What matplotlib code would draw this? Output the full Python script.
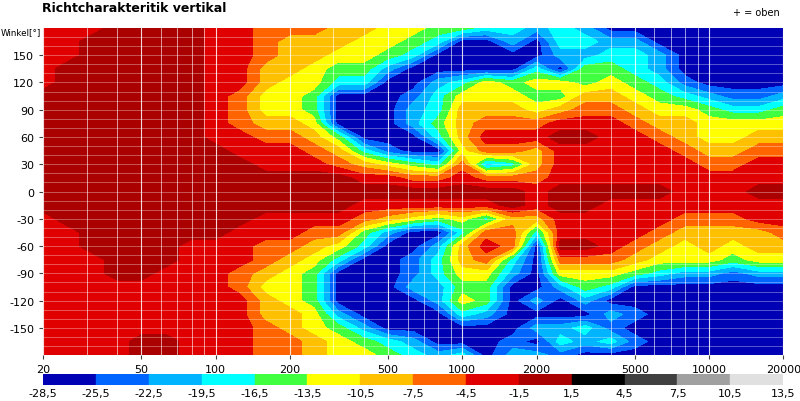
import numpy as np
import matplotlib
matplotlib.use('Agg')
import matplotlib.pyplot as plt
from matplotlib.colors import ListedColormap, BoundaryNorm

# third-octave frequencies (Hz) and angles (deg)
freqs = [20, 25, 31.5, 40, 50, 63, 80, 100, 125, 160, 200, 250, 315, 400, 500, 630,
         800, 1000, 1250, 1600, 2000, 2500, 3150, 4000, 5000, 6300, 8000, 10000,
         12500, 16000, 20000]
angles = [180, 165, 150, 135, 120, 105, 90, 75, 60, 45, 30, 15, 0,
          -15, -30, -45, -60, -75, -90, -105, -120, -135, -150, -165, -180]

# level codes (one letter per frequency)
level_db = {'A': -27, 'B': -24, 'C': -21, 'D': -18, 'E': -15, 'F': -12,
            'G': -9, 'H': -6, 'I': -3, 'J': 0}
rows = [
    "IIIJJJJIIHHHGGFFEEDDCDCAAAAAAAA",
    "IIJJJJJIIHGGGFFEDAACADDCCAAAAAA",
    "IIJJJJJIIHGGFFEDAAAAACCDDCAAAAA",
    "IJJJJJJIIGGFEECAAAAADAEEDCAAAAA",
    "IJJJJJJIIGFFDDAACDFEFFEFEDBAAAA",
    "JJJJJJJIHFFEAAABDFFFEEGGFEDCBBC",
    "JJJJJJJIHFFEAAACDGGGFGHHGFFEDDE",
    "JJJJJJJIHGGFAAACEGHHHIIIHGGFFFF",
    "JJJJJJJIIHHGEAAADGIIIJJIIHGFFGG",
    "JJJJJJJJIIIHGDBAAFHHGIIIIIHGGHH",
    "JJJJJJJJJIIIHGFEDHCDGIIIIIIHHII",
    "JJJJJJJJJJJJJIIHHIHHHIIIIIIIIII",
    "JJJJJJJJJJJJJJJJJJJJIJJJJJIIIJJ",
    "JJJJJJJJJJJJJIIIIIIJIJJIIIIIIII",
    "IJJJJJJJJIIIIHGFEFDGGIIIIIHHHII",
    "IIJJJJJJIIIHHECAADHHDIIIIHGGGGH",
    "IIJJJJIIIHHGFDAACGIHAJJIHGFGFGG",
    "IIIJJJIIIHGFDAABDGHDAHHHGFFFEFF",
    "IIIJJIIIHGFEAAABDFFCAFFFEDCCBCC",
    "IIIIIIIIHFFEAAACCEEAACEDAAAAAAA",
    "IIIIIIIIIGFEAAAACFEACACAAAAAAAA",
    "IIIIIIIIIGGFCAAAADCAAAACBAAAAAA",
    "IIIIIIIIIHGFECAAAAAACCDBAAAAAAA",
    "IIIIJJIIIHHGFEDCAAABADCDBAAAAAA",
    "IIIIJJIIIHHGFFEDCDACCBAAAAAAAAA",
]

levels = [-28.5, -25.5, -22.5, -19.5, -16.5, -13.5, -10.5, -7.5, -4.5, -1.5,
          1.5, 4.5, 7.5, 10.5, 13.5]
colors = ['#0000b4', '#0064ff', '#00b4ff', '#00ffff', '#40ff40', '#ffff00',
          '#ffc000', '#ff6400', '#e00000', '#aa0000', '#000000', '#404040',
          '#a0a0a0', '#e0e0e0']
xticks = [20, 50, 100, 200, 500, 1000, 2000, 5000, 10000, 20000]

Z = np.array([[level_db[c] for c in r] for r in rows], dtype=float)
X = np.log10(freqs)
cmap = ListedColormap(colors)
norm = BoundaryNorm(levels, cmap.N)

fig = plt.figure(figsize=(8, 4.02), dpi=100)
ax = fig.add_axes([0.054, 0.114, 0.925, 0.814])
ax.contourf(X, angles, Z, levels=levels, cmap=cmap, norm=norm)

# white grid
minor = [m * 10**e for e in range(1, 5) for m in range(1, 10)]
minor = [f for f in minor if 20 <= f <= 20000]
for f in minor:
    ax.axvline(np.log10(f), color='white', lw=0.8 if f in xticks else 0.5, alpha=0.85)
for a in range(-170, 180, 10):
    ax.axhline(a, color='white', lw=0.4, alpha=0.6)

ax.set_xlim(np.log10(20), np.log10(20000))
ax.set_ylim(-180, 180)
ax.set_xticks(np.log10(xticks))
ax.set_xticklabels([str(t) for t in xticks], fontsize=8)
ax.set_yticks(range(-150, 151, 30))
ax.set_yticklabels([str(t) for t in range(-150, 151, 30)], fontsize=8)
ax.tick_params(length=3, color='#404040')
for s in ax.spines.values():
    s.set_visible(False)

fig.text(0.052, 0.978, 'Richtcharakteritik vertikal', fontsize=9, fontweight='bold', va='center')
fig.text(0.975, 0.968, '+ = oben', fontsize=7, ha='right', va='center')
fig.text(0.051, 0.918, 'Winkel[°]', fontsize=6.3, ha='right', va='center')

cax = fig.add_axes([0.054, 0.04, 0.925, 0.027])
for i, c in enumerate(colors):
    cax.axvspan(i, i + 1, color=c)
cax.set_xlim(0, len(colors))
cax.set_yticks([])
cax.set_xticks(range(len(levels)))
cax.set_xticklabels([f'{v:.1f}'.replace('.', ',') for v in levels], fontsize=8)
cax.tick_params(length=0, pad=2)
for s in cax.spines.values():
    s.set_visible(False)

fig.savefig('out.png')
